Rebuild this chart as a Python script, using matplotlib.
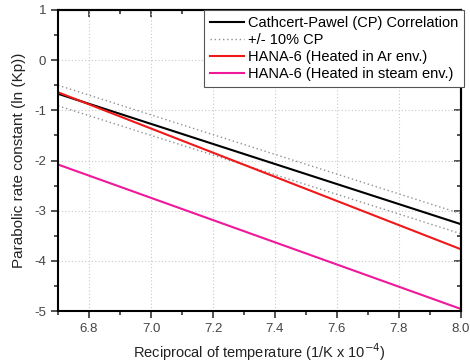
import matplotlib
matplotlib.use("Agg")
import matplotlib.pyplot as plt
from matplotlib.ticker import MultipleLocator, FormatStrFormatter, FuncFormatter

plt.rcParams['font.family'] = ['Liberation Sans', 'DejaVu Sans']

x_vals = [6.7, 8.0]
cp = [-0.67, -3.27]
cp_upper = [-0.50, -3.06]
cp_lower = [-0.91, -3.46]
hana_ar = [-0.64, -3.77]
hana_steam = [-2.08, -4.96]

labels = ["Cathcert-Pawel (CP) Correlation", "+/- 10% CP",
          "HANA-6 (Heated in Ar env.)", "HANA-6 (Heated in steam env.)"]

fig = plt.figure(figsize=(4.7, 3.62), dpi=100)
ax = fig.add_axes([58/470, 1-311/362, (461-58)/470, (311-10)/362])

ax.plot(x_vals, cp, color='black', lw=1.5, label=labels[0])
ax.plot(x_vals, cp_upper, color='#909090', lw=1.0, ls=(0, (1, 2)), label=labels[1])
ax.plot(x_vals, cp_lower, color='#909090', lw=1.0, ls=(0, (1, 2)))
ax.plot(x_vals, hana_ar, color='#f01818', lw=1.5, label=labels[2])
ax.plot(x_vals, hana_steam, color='#f0189a', lw=1.5, label=labels[3])

ax.set_xlim(6.7, 8.0)
ax.set_ylim(-5, 1)
ax.xaxis.set_major_locator(MultipleLocator(0.2))
ax.xaxis.set_minor_locator(MultipleLocator(0.1))
ax.yaxis.set_major_locator(MultipleLocator(1))
ax.yaxis.set_minor_locator(MultipleLocator(0.5))
ax.xaxis.set_major_formatter(FormatStrFormatter('%.1f'))
ax.yaxis.set_major_formatter(FuncFormatter(lambda v, p: '%d' % v))

ax.grid(True, which='major', color='#c8c8c8', ls=(0, (1, 2)), lw=0.8)
for s in ax.spines.values():
    s.set_linewidth(1.5)
ax.tick_params(which='both', direction='out', width=1.2, labelsize=9.5,
               colors='#333333', labelcolor='#444444', top=False, right=False)
ax.tick_params(which='major', length=5)
ax.tick_params(which='minor', length=3)

sec_x = ax.secondary_xaxis('top')
sec_x.xaxis.set_major_locator(MultipleLocator(0.2))
sec_x.xaxis.set_minor_locator(MultipleLocator(0.1))
sec_x.tick_params(which='both', direction='in', labeltop=False, width=1.2, colors='#333333')
sec_x.tick_params(which='major', length=5)
sec_x.tick_params(which='minor', length=3)
sec_y = ax.secondary_yaxis('right')
sec_y.yaxis.set_major_locator(MultipleLocator(1))
sec_y.yaxis.set_minor_locator(MultipleLocator(0.5))
sec_y.tick_params(which='both', direction='in', labelright=False, width=1.2, colors='#333333')
sec_y.tick_params(which='major', length=5)
sec_y.tick_params(which='minor', length=3)
sec_x.spines['top'].set_linewidth(1.5)
sec_y.spines['right'].set_linewidth(1.5)

ax.set_xlabel("Reciprocal of temperature (1/K x 10$^{-4}$)", fontsize=10.5, color='#222222', labelpad=5)
ax.set_ylabel("Parabolic rate constant (ln (Kp))", fontsize=11, color='#222222', labelpad=6)

leg = ax.legend(loc='upper right', bbox_to_anchor=(464/470, 1-10/362),
                bbox_transform=fig.transFigure, fontsize=10.5, frameon=True,
                fancybox=False, edgecolor='#555555', framealpha=1,
                handlelength=2.3, handletextpad=0.3, labelspacing=0.22,
                borderpad=0.4, borderaxespad=0)
leg.get_frame().set_linewidth(0.8)

fig.savefig('out.png', dpi=100)
